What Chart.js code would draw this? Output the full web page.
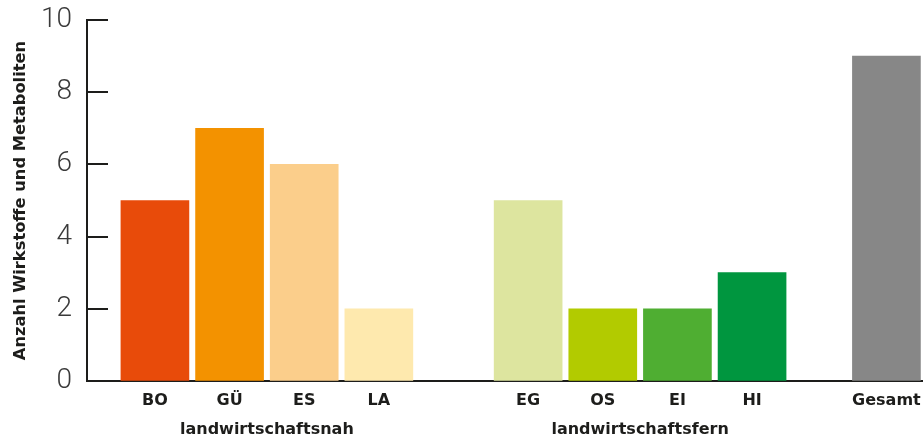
<!DOCTYPE html>
<html>
<head>
<meta charset="utf-8">
<script src="https://cdn.jsdelivr.net/npm/chart.js@4.4.1/dist/chart.umd.min.js"></script>
<style>
  html, body { margin: 0; padding: 0; background: #fff; }
  #wrap { width: 923px; height: 441px; }
</style>
</head>
<body>
<div id="wrap"><canvas id="wirkstoffChart"></canvas></div>
<script>
// Standorte und Anzahl der gefundenen Wirkstoffe/Metaboliten
const sites = ["BO", "GÜ", "ES", "LA", "EG", "OS", "EI", "HI", "Gesamt"];
const counts = [5, 7, 6, 2, 5, 2, 2, 3, 9];
// Platz auf der x-Achse (Lücken zwischen den Gruppen)
const slots = [0, 1, 2, 3, 5, 6, 7, 8, 9.8];
const siteColors = ["#e84b0a", "#f39200", "#fbce8b", "#fee9ae", "#dde59f", "#b2cb00", "#4fae32", "#00963f", "#878787"];
const groupNames = ["landwirtschaftsnah", "landwirtschaftsfern"];
const groupSites = [["BO", "GÜ", "ES", "LA"], ["EG", "OS", "EI", "HI"]];
const yTicks = [0, 2, 4, 6, 8, 10];

const ink = "#1d1d1b";
const boldFont = "'DejaVu Sans', 'Liberation Sans', sans-serif";

// kurze Striche an der y-Achse, nach innen
const innerTicks = {
  id: "innerTicks",
  afterDatasetsDraw(chart) {
    const { ctx, chartArea } = chart;
    const y = chart.scales.y;
    ctx.save();
    ctx.strokeStyle = ink;
    ctx.lineWidth = 2;
    yTicks.forEach(t => {
      const py = Math.round(y.getPixelForValue(t));
      ctx.beginPath();
      ctx.moveTo(chartArea.left, py);
      ctx.lineTo(chartArea.left + 21, py);
      ctx.stroke();
    });
    ctx.restore();
  }
};

// Gruppenbeschriftung unter den Standorten
const groupLabels = {
  id: "groupLabels",
  afterDraw(chart) {
    const { ctx } = chart;
    const x = chart.scales.x;
    ctx.save();
    ctx.font = "bold 16px " + boldFont;
    ctx.fillStyle = ink;
    ctx.textAlign = "center";
    ctx.textBaseline = "middle";
    groupNames.forEach((name, g) => {
      const pos = groupSites[g].map(s => slots[sites.indexOf(s)]);
      const mid = (Math.min(...pos) + Math.max(...pos)) / 2;
      ctx.fillText(name, x.getPixelForValue(mid), x.top + 49);
    });
    ctx.restore();
  }
};

new Chart(document.getElementById("wirkstoffChart"), {
  type: "bar",
  data: {
    datasets: [{
      data: sites.map((s, i) => ({ x: slots[i], y: counts[i] })),
      backgroundColor: siteColors,
      barThickness: 68,
      borderWidth: 0
    }]
  },
  plugins: [innerTicks, groupLabels],
  options: {
    responsive: true,
    maintainAspectRatio: false,
    animation: false,
    layout: { padding: { top: 20, right: 0, bottom: 0, left: 0 } },
    plugins: { legend: { display: false }, tooltip: { enabled: false } },
    scales: {
      x: {
        type: "linear",
        min: -0.91,
        max: 10.29,
        offset: false,
        grid: { display: true, drawOnChartArea: false, drawTicks: false, offset: false },
        border: { display: true, color: ink, width: 2 },
        afterBuildTicks: scale => { scale.ticks = slots.map(v => ({ value: v })); },
        afterFit: scale => {
          scale.height = 60;
          scale.paddingLeft = 0;
          scale.paddingRight = 0;
        },
        ticks: {
          autoSkip: false,
          maxRotation: 0,
          padding: 10,
          color: ink,
          font: { family: boldFont, size: 16, weight: "bold" },
          callback: v => sites[slots.indexOf(v)]
        }
      },
      y: {
        min: 0,
        max: 10,
        afterBuildTicks: scale => { scale.ticks = yTicks.map(v => ({ value: v })); },
        afterFit: scale => {
          scale.width = 87;
          scale.paddingTop = 0;
          scale.paddingBottom = 0;
        },
        grid: { display: true, drawOnChartArea: false, drawTicks: false },
        border: { display: true, color: ink, width: 2 },
        ticks: {
          padding: 15,
          color: "#3a3a3a",
          font: { family: "Roboto, 'Open Sans', sans-serif", size: 28, weight: "300" }
        },
        title: {
          display: true,
          text: "Anzahl Wirkstoffe und Metaboliten",
          color: ink,
          padding: { top: 11, bottom: 0 },
          font: { family: boldFont, size: 16.3, weight: "bold" }
        }
      }
    }
  }
});
</script>
</body>
</html>
